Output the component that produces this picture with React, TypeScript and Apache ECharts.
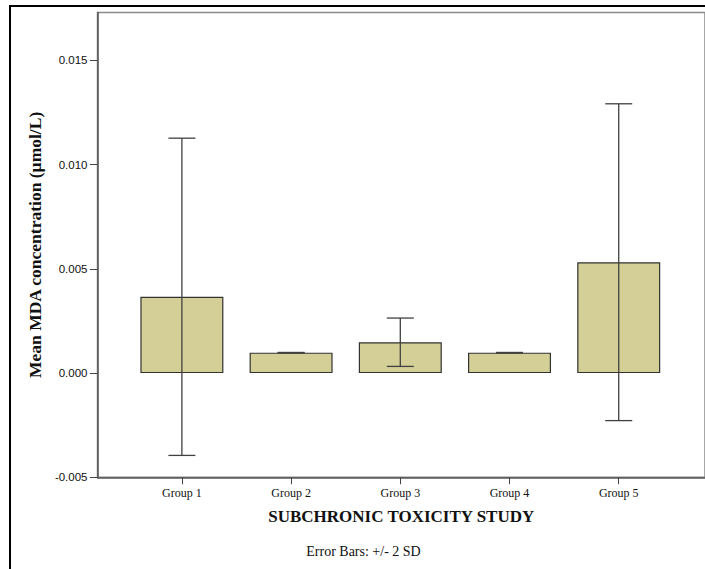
import React, { useEffect, useRef } from "react";
import * as echarts from "echarts";

const groups = ["Group 1", "Group 2", "Group 3", "Group 4", "Group 5"];
const groupPositions = [1, 2, 3, 4, 5];
const means = [0.00366, 0.00098, 0.00148, 0.00098, 0.00532];
const twoSD = [0.00761, 0.00001, 0.00116, 0.00001, 0.0076];
const yTicks = [-0.005, 0.0, 0.005, 0.01, 0.015];

export default function App() {
  const ref = useRef<HTMLDivElement>(null);
  useEffect(() => {
    if (!ref.current) return;
    const chart = echarts.init(ref.current, undefined, { renderer: "svg" });
    const barData = groupPositions.map((x, i) => [x, means[i]]);
    const errData = groupPositions.map((x, i) => [x, means[i] - twoSD[i], means[i] + twoSD[i]]);
    const serif = "'Liberation Serif', 'Times New Roman', serif";
    const sans = "'Liberation Sans', Arial, sans-serif";
    chart.setOption({
      animation: false,
      backgroundColor: "#ffffff",
      grid: {
        left: 97.5,
        top: 12.5,
        width: 612,
        height: 464.8,
        show: true,
        borderColor: "#8a8a8a",
        borderWidth: 1.5,
        backgroundColor: "transparent",
      },
      xAxis: {
        type: "value",
        min: 0.2273,
        max: 5.79,
        name: "SUBCHRONIC TOXICITY STUDY",
        nameLocation: "middle",
        nameGap: 31,
        nameTextStyle: { fontFamily: serif, fontSize: 17, fontWeight: "bold", color: "#111" },
        axisLine: { show: true, onZero: false, lineStyle: { color: "#555", width: 1.5 } },
        axisTick: { show: true, length: 7, customValues: groupPositions, lineStyle: { color: "#444", width: 1 } },
        axisLabel: {
          customValues: groupPositions,
          margin: 10,
          fontFamily: serif,
          fontSize: 12,
          color: "#111",
          formatter: (v: number) => groups[Math.round(v) - 1] ?? "",
        },
        splitLine: { show: false },
      },
      yAxis: {
        type: "value",
        min: -0.005,
        max: 0.0173,
        name: "Mean MDA concentration (µmol/L)",
        nameLocation: "middle",
        nameGap: 52.5,
        nameTextStyle: { fontFamily: serif, fontSize: 17.5, fontWeight: "bold", color: "#111" },
        axisLine: { show: true, lineStyle: { color: "#555", width: 1.5 } },
        axisTick: { show: true, length: 7.5, customValues: yTicks, lineStyle: { color: "#444", width: 1 } },
        axisLabel: {
          customValues: yTicks,
          margin: 10,
          fontFamily: sans,
          fontSize: 11.5,
          color: "#111",
          formatter: (v: number) => v.toFixed(3),
        },
        splitLine: { show: false },
      },
      series: [
        {
          type: "bar",
          data: barData,
          barWidth: 83,
          itemStyle: { color: "#d3cf97", borderColor: "#333", borderWidth: 1.2 },
        },
        {
          type: "custom",
          data: errData,
          z: 5,
          renderItem: (params: any, api: any) => {
            const x = api.value(0);
            const lo = api.coord([x, api.value(1)]);
            const hi = api.coord([x, api.value(2)]);
            const half = 13.5;
            const style = { stroke: "#404040", lineWidth: 1.3 };
            return {
              type: "group",
              children: [
                { type: "line", shape: { x1: hi[0], y1: hi[1], x2: lo[0], y2: lo[1] }, style },
                { type: "line", shape: { x1: hi[0] - half, y1: hi[1], x2: hi[0] + half, y2: hi[1] }, style },
                { type: "line", shape: { x1: lo[0] - half, y1: lo[1], x2: lo[0] + half, y2: lo[1] }, style },
              ],
            };
          },
        },
      ],
      graphic: [
        {
          type: "rect",
          silent: true,
          shape: { x: 10, y: 6, width: 800, height: 700 },
          style: { fill: "none", stroke: "#000", lineWidth: 2 },
        },
        {
          type: "text",
          x: 363.5,
          y: 551,
          silent: true,
          style: {
            text: "Error Bars: +/- 2 SD",
            fontFamily: serif,
            fontSize: 14,
            fill: "#111",
            textAlign: "center",
            textVerticalAlign: "middle",
          },
        },
      ],
    });
    return () => chart.dispose();
  }, []);
  return (
    <div
      ref={ref}
      style={{ position: "fixed", left: 0, top: 0, width: 705, height: 569, background: "#fff" }}
    />
  );
}
